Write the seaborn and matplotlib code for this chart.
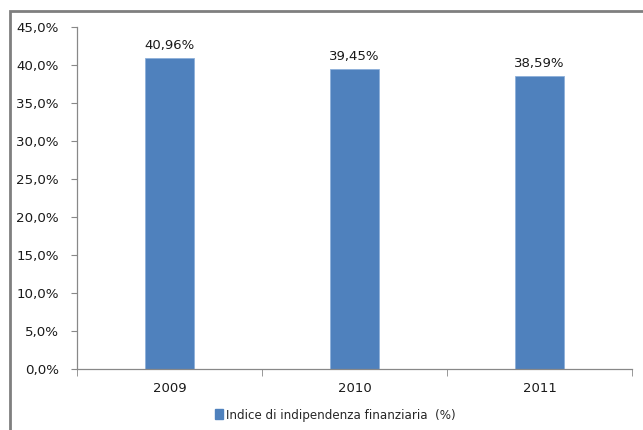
import matplotlib
matplotlib.use("Agg")
import matplotlib.pyplot as plt
import seaborn as sns
import pandas as pd
from matplotlib.patches import Rectangle, Patch
from matplotlib.ticker import FixedLocator, FuncFormatter

years = ["2009", "2010", "2011"]
values = [40.96, 39.45, 38.59]
series_name = "Indice di indipendenza finanziaria  (%)"
yticks = [0, 5, 10, 15, 20, 25, 30, 35, 40, 45]

sns.set_style("white")
plt.rcParams['font.family'] = ['DejaVu Sans']

df = pd.DataFrame({"year": years, "value": values})

fig = plt.figure(figsize=(6.43, 4.30), dpi=100)
ax = fig.add_axes([77/643, 1-369/430, (632-77)/643, (369-27)/430])

color = "#4F81BD"
sns.barplot(data=df, x="year", y="value", color=color, width=0.27, ax=ax,
            saturation=1, edgecolor="#8EB0DA", linewidth=0.6)

ax.set_xlim(-0.5, 2.5)
ax.set_ylim(0, 45)
ax.set_yticks(yticks)
ax.yaxis.set_major_formatter(FuncFormatter(lambda v, p: f"{v:.1f}%".replace(".", ",")))
ax.set_xlabel("")
ax.set_ylabel("")

for i, v in enumerate(values):
    ax.text(i, v + 0.8, f"{v:.2f}%".replace(".", ","), ha="center", va="bottom",
            fontsize=9.5, color="#1a1a1a")

for s in ["top", "right"]:
    ax.spines[s].set_visible(False)
for s in ["left", "bottom"]:
    ax.spines[s].set_color("#888888")
    ax.spines[s].set_linewidth(0.9)

ax.tick_params(axis="y", which="major", direction="out", length=4, color="#888888",
               labelsize=9.6, labelcolor="#1a1a1a", pad=9, left=True)
ax.tick_params(axis="x", which="major", length=0, labelsize=9.5, labelcolor="#1a1a1a", pad=9)
ax.xaxis.set_minor_locator(FixedLocator([-0.5, 0.5, 1.5, 2.5]))
ax.tick_params(axis="x", which="minor", direction="out", length=5, color="#888888", bottom=True)

handles = [Patch(facecolor=color, edgecolor=color)]
fig.legend(handles, [series_name], loc="center", bbox_to_anchor=(335/643, 1-415/430),
           frameon=False, fontsize=8.6, handlelength=0.7, handleheight=0.9,
           handletextpad=0.2, borderpad=0)

# outer frame (partly cropped)
fig.patches.append(Rectangle((10/643, -0.05), 1.0, 1-11/430+0.05, transform=fig.transFigure,
                             fill=False, edgecolor="#7F7F7F", linewidth=2, zorder=0))

fig.savefig("out.png", dpi=100, facecolor="white")
